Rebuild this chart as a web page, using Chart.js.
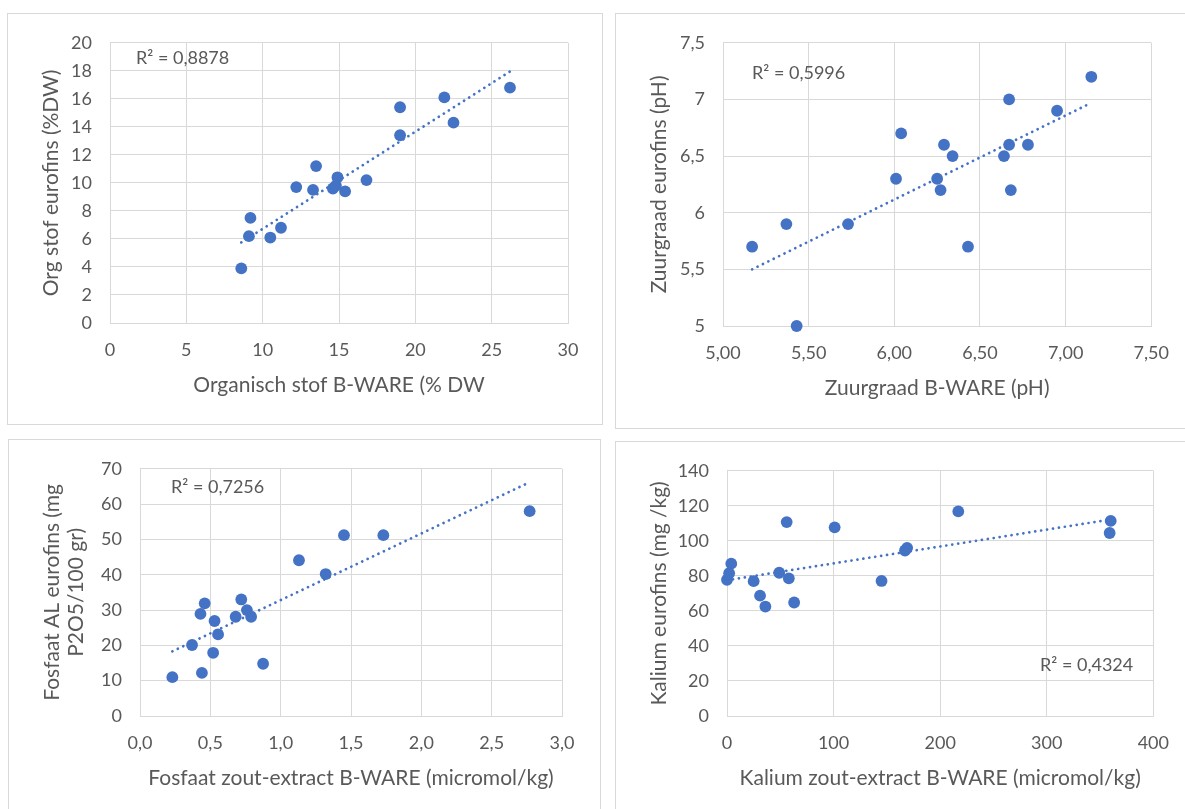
<!DOCTYPE html>
<html><head><meta charset="utf-8">
<script src="https://cdn.jsdelivr.net/npm/chart.js@4/dist/chart.umd.min.js"></script>
<style>
html,body{margin:0;padding:0;background:#fff;width:1185px;height:809px;overflow:hidden;position:relative;font-family:Lato,sans-serif}
.box{position:absolute;border:1px solid #d9d9d9;box-sizing:border-box}
canvas{position:absolute}
.r2{position:absolute;font-family:Lato,sans-serif;font-size:18px;color:#595959;white-space:nowrap;line-height:20px;height:20px}
</style></head><body>
<div class="box" style="left:7px;top:13px;width:596px;height:412px"></div>
<div class="box" style="left:615px;top:13px;width:600px;height:416px"></div>
<div class="box" style="left:8px;top:439px;width:593px;height:400px"></div>
<div class="box" style="left:615px;top:441px;width:600px;height:400px"></div>
<canvas id="c1"></canvas><canvas id="c2"></canvas><canvas id="c3"></canvas><canvas id="c4"></canvas>
<div class="r2" style="left:136px;top:47px">R² = 0,8878</div>
<div class="r2" style="left:752px;top:62px">R² = 0,5996</div>
<div class="r2" style="left:171px;top:476px">R² = 0,7256</div>
<div class="r2" style="left:1040px;top:654px">R² = 0,4324</div>
<script>
// ---- Panel 1: Organische stof ----
const orgX = [8.6, 9.1, 9.2, 10.5, 11.2, 12.2, 13.3, 13.5, 14.6, 14.8, 14.9, 15.4, 16.8, 19.0, 19.0, 21.9, 22.5, 26.2];
const orgY = [3.9, 6.2, 7.5, 6.1, 6.8, 9.7, 9.5, 11.2, 9.6, 9.8, 10.4, 9.4, 10.2, 15.4, 13.4, 16.1, 14.3, 16.8];
const orgTrendX = [8.6, 26.2];
const orgTrendY = [5.75, 17.95];
const orgXTicks = ['0','5','10','15','20','25','30'];
const orgYTicks = ['0','2','4','6','8','10','12','14','16','18','20'];

// ---- Panel 2: Zuurgraad ----
const phX = [5.17, 5.37, 5.43, 5.73, 6.01, 6.04, 6.25, 6.27, 6.29, 6.34, 6.43, 6.64, 6.67, 6.67, 6.68, 6.78, 6.95, 7.15];
const phY = [5.7, 5.9, 5.0, 5.9, 6.3, 6.7, 6.3, 6.2, 6.6, 6.5, 5.7, 6.5, 7.0, 6.6, 6.2, 6.6, 6.9, 7.2];
const phTrendX = [5.17, 7.15];
const phTrendY = [5.5, 6.97];
const phXTicks = ['5,00','5,50','6,00','6,50','7,00','7,50'];
const phYTicks = ['5','5,5','6','6,5','7','7,5'];

// ---- Panel 3: Fosfaat ----
const pX = [0.23, 0.37, 0.43, 0.44, 0.46, 0.52, 0.53, 0.555, 0.68, 0.72, 0.76, 0.79, 0.875, 1.13, 1.32, 1.45, 1.73, 2.77];
const pY = [11.0, 20.1, 28.9, 12.2, 31.9, 17.9, 26.9, 23.1, 28.1, 33.0, 30.0, 28.1, 14.8, 44.1, 40.2, 51.2, 51.2, 58.0];
const pTrendX = [0.23, 2.77];
const pTrendY = [18.3, 66.2];
const pXTicks = ['0,0','0,5','1,0','1,5','2,0','2,5','3,0'];
const pYTicks = ['0','10','20','30','40','50','60','70'];

// ---- Panel 4: Kalium ----
const kX = [0, 2, 4, 25, 31, 36, 49, 56, 58, 63, 101, 145, 167, 169, 217, 359, 360];
const kY = [77.8, 81.5, 87.0, 77.0, 68.7, 62.5, 81.8, 110.7, 78.6, 64.8, 107.7, 77.1, 94.5, 96.0, 116.8, 104.5, 111.4];
const kTrendX = [0, 360];
const kTrendY = [77.5, 112.2];
const kXTicks = ['0','100','200','300','400'];
const kYTicks = ['0','20','40','60','80','100','120','140'];

const TXT = '#595959', GRID = '#d9d9d9', BLUE = '#4472C4';
const pts = (xs, ys) => xs.map((x, i) => ({x, y: ys[i]}));

function makePanel(id, cv, plot, cfg) {
  const el = document.getElementById(id);
  el.width = cv.w; el.height = cv.h;
  el.style.left = cv.l + 'px'; el.style.top = cv.t + 'px';
  el.style.width = cv.w + 'px'; el.style.height = cv.h + 'px';
  const yW = plot.L - cv.l, xH = (cv.t + cv.h) - plot.B;
  new Chart(el, {
    type: 'scatter',
    data: { datasets: [
      { data: pts(cfg.tx, cfg.ty), showLine: true, borderColor: BLUE, backgroundColor: BLUE,
        borderWidth: 2.7, borderDash: [0.1, 5.9], borderCapStyle: 'round', pointRadius: 0, fill: false, clip: false },
      { data: pts(cfg.x, cfg.y), backgroundColor: BLUE, borderColor: BLUE, borderWidth: 0,
        pointRadius: 5.9, clip: false }
    ]},
    options: {
      responsive: false, animation: false, devicePixelRatio: 1,
      layout: { padding: { left: 0, bottom: 0, top: plot.T - cv.t, right: (cv.l + cv.w) - plot.R } },
      plugins: { legend: { display: false }, tooltip: { enabled: false } },
      scales: {
        x: { type: 'linear', min: cfg.xmin, max: cfg.xmax,
          afterFit: s => { s.height = xH; },
          ticks: { stepSize: cfg.xstep, color: TXT, font: { family: 'Lato', size: 18 }, padding: 16,
            callback: (v, i) => cfg.xt[i] },
          grid: { color: GRID, lineWidth: 1, drawTicks: false },
          border: { display: true, color: GRID, width: 1 },
          title: { display: true, text: cfg.xtitle, color: TXT, font: { family: 'Lato', size: 21, lineHeight: 1.2 },
            padding: { top: 0, bottom: cfg.xtp } } },
        y: { type: 'linear', min: cfg.ymin, max: cfg.ymax,
          afterFit: s => { s.width = yW; },
          ticks: { stepSize: cfg.ystep, color: TXT, font: { family: 'Lato', size: 18 }, padding: 18,
            callback: (v, i) => cfg.yt[i] },
          grid: { color: GRID, lineWidth: 1, drawTicks: false },
          border: { display: true, color: GRID, width: 1 },
          title: { display: true, text: cfg.ytitle, color: TXT, font: { family: 'Lato', size: 21, lineHeight: 1.15 },
            padding: { top: cfg.ytp, bottom: 0 } } }
      }
    }
  });
}

makePanel('c1', {l: 8, t: 14, w: 594, h: 410}, {L: 110, R: 568, T: 38, B: 323},
  {x: orgX, y: orgY, tx: orgTrendX, ty: orgTrendY, xmin: 0, xmax: 30, xstep: 5, ymin: 0, ymax: 20, ystep: 2,
   xt: orgXTicks, yt: orgYTicks, xtitle: 'Organisch stof B-WARE (% DW', ytitle: 'Org stof eurofins (%DW)', xtp: 26, ytp: 31});
makePanel('c2', {l: 616, t: 14, w: 569, h: 414}, {L: 723, R: 1153, T: 37, B: 326},
  {x: phX, y: phY, tx: phTrendX, ty: phTrendY, xmin: 5, xmax: 7.5, xstep: 0.5, ymin: 5, ymax: 7.5, ystep: 0.5,
   xt: phXTicks, yt: phYTicks, xtitle: 'Zuurgraad B-WARE (pH)', ytitle: 'Zuurgraad eurofins (pH)', xtp: 27, ytp: 31});
makePanel('c3', {l: 9, t: 440, w: 590, h: 369}, {L: 140, R: 562, T: 464, B: 716},
  {x: pX, y: pY, tx: pTrendX, ty: pTrendY, xmin: 0, xmax: 3, xstep: 0.5, ymin: 0, ymax: 70, ystep: 10,
   xt: pXTicks, yt: pYTicks, xtitle: 'Fosfaat zout-extract B-WARE (micromol/kg)', ytitle: ['Fosfaat AL eurofins (mg', 'P2O5/100 gr)'], xtp: 18, ytp: 31});
makePanel('c4', {l: 616, t: 442, w: 569, h: 367}, {L: 727, R: 1157, T: 466, B: 716},
  {x: kX, y: kY, tx: kTrendX, ty: kTrendY, xmin: 0, xmax: 400, xstep: 100, ymin: 0, ymax: 140, ystep: 20,
   xt: kXTicks, yt: kYTicks, xtitle: 'Kalium zout-extract B-WARE (micromol/kg)', ytitle: 'Kalium eurofins (mg /kg)', xtp: 18, ytp: 31});
</script>
</body></html>
